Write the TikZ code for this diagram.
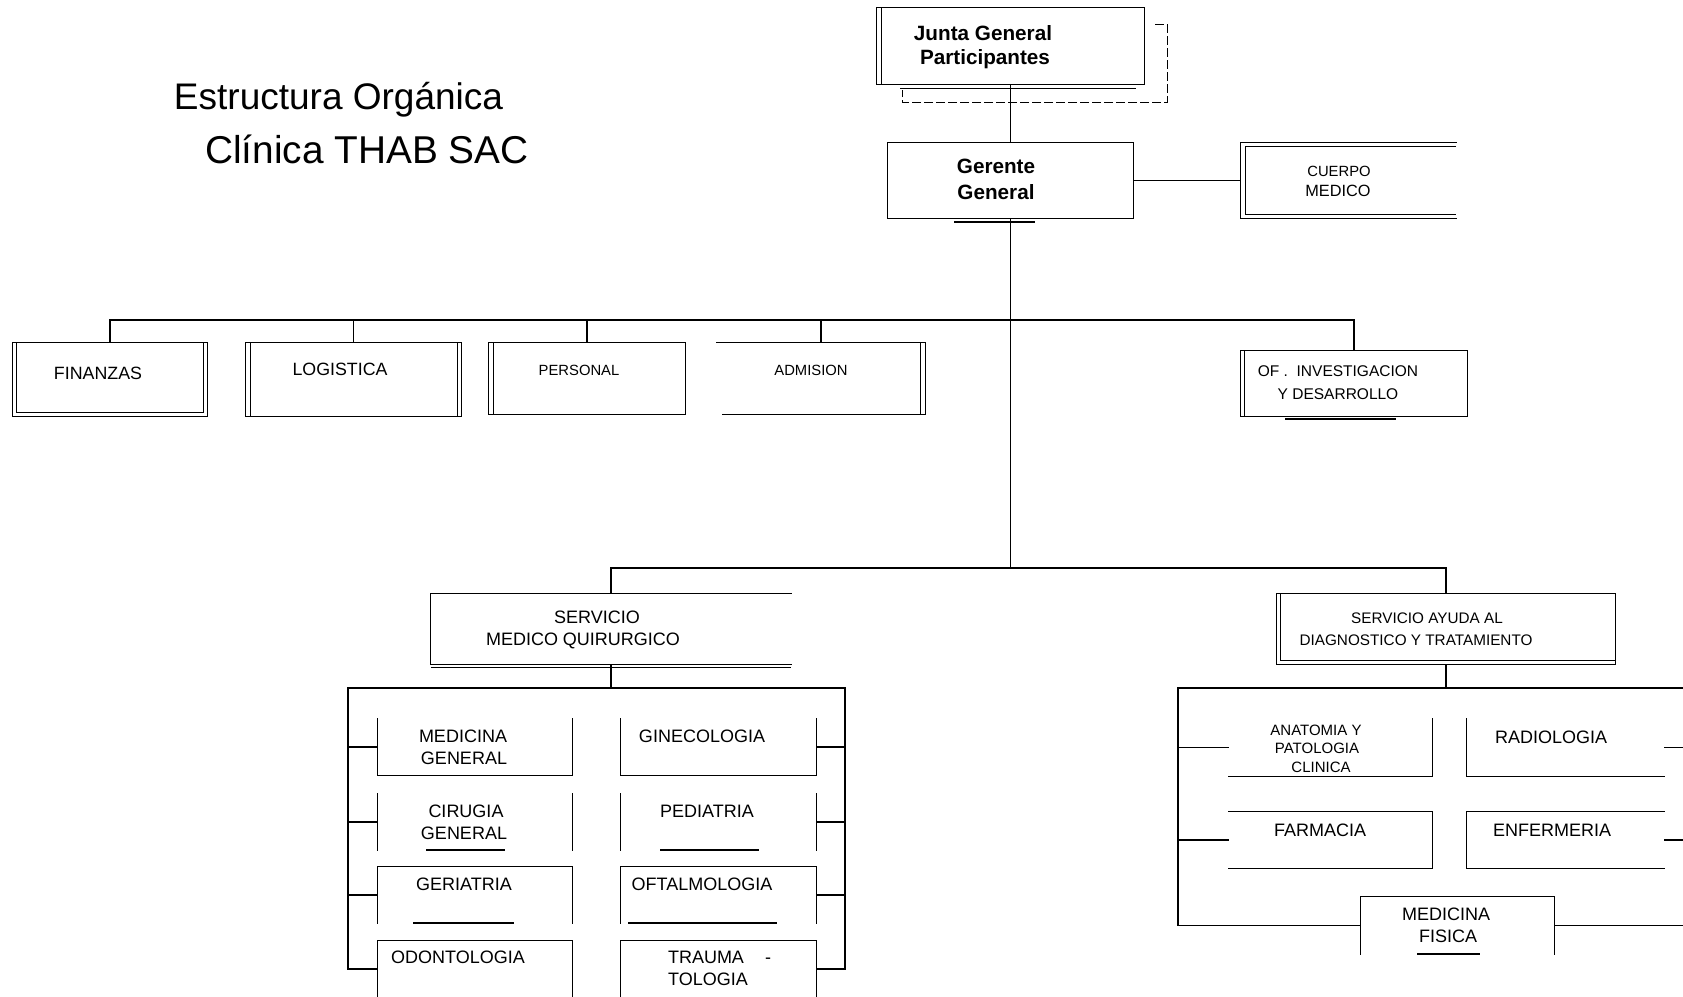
\documentclass[tikz,border=0pt]{standalone}
\usepackage{fontspec}
\setmainfont{Liberation Sans}
\newcommand\lbl[5]{\node[anchor=base,inner sep=0pt,yshift=-0.358*#4pt,font=\fontsize{#4pt}{#4pt}\selectfont] (#1) at (#2,#3) {#5};}
\begin{document}
\begin{tikzpicture}[x=1pt,y=-1pt,
  ln/.style={line width=1.1pt,line cap=rect},
  ln2/.style={line width=0.8pt},
  dsh/.style={line width=0.8pt,dash pattern=on 9pt off 3pt},
  bx/.style={rectangle,inner sep=0pt,draw=none}]
\useasboundingbox[fill=white] (0,0) rectangle (1683,996);

% ---------- title ----------
\lbl{t1}{338.5}{96}{37}{Estructura Orgánica}
\lbl{t2}{367}{150}{38.8}{Clínica THAB SAC}

% ---------- junta ----------
\node[bx,minimum width=267pt,minimum height=76.5pt] (junta) at (1010.5,45.75) {};
\draw[ln] (junta.north west) rectangle (junta.south east);
\draw[ln2] ([xshift=5pt]junta.north west) -- ([xshift=5pt]junta.south west);
\draw[ln2] (900,88.5) -- (1136,88.5);
\draw[dsh] (1155,24) -- (1167,24) -- (1167,102) -- (902,102) -- (902,90);
\lbl{tj1}{983}{33}{20.7}{\bfseries Junta General}
\lbl{tj2}{985}{57}{20.7}{\bfseries Participantes}

% ---------- gerente ----------
\node[bx,minimum width=245pt,minimum height=75pt] (ger) at (1010.5,180.5) {};
\draw[ln] (ger.north west) rectangle (ger.south east);
\draw[ln] (955,222) -- (1034,222);
\lbl{tg1}{996}{166}{20.7}{\bfseries Gerente}
\lbl{tg2}{996}{192}{20.7}{\bfseries General}
\draw[ln] (junta.south) -- (ger.north);

% ---------- cuerpo medico ----------
\node[bx,minimum width=215pt,minimum height=75pt] (cue) at (1348.5,180.5) {};
\draw[ln] (cue.north east) -- (cue.north west) -- (cue.south west) -- (cue.south east);
\draw[ln2] ([yshift=-4pt]cue.north east) -- ([xshift=5pt,yshift=-4pt]cue.north west) -- ([xshift=5pt,yshift=4pt]cue.south west) -- ([yshift=4pt]cue.south east);
\lbl{tc1}{1339}{171}{14.8}{CUERPO}
\lbl{tc2}{1338}{191}{16.3}{MEDICO}
\draw[ln] (ger.east) -- (cue.west);

% ---------- second level ----------
\node[bx,minimum width=194pt,minimum height=73pt] (fin) at (110,379.5) {};
\node[bx,minimum width=215pt,minimum height=73pt] (log) at (353.5,379.5) {};
\node[bx,minimum width=196pt,minimum height=71pt] (per) at (587,378.5) {};
\node[bx,minimum width=208pt,minimum height=71pt] (adm) at (821,378.5) {};
\node[bx,minimum width=226pt,minimum height=65pt] (of) at (1354,383.5) {};
\coordinate (j1) at (1010.5,320);
\coordinate (j2) at (1010.5,568);

\draw[ln] (ger.south) -- (j2);
\draw[ln] (fin.north) -- (fin.north |- j1) -- (of.north |- j1) -- (of.north);
\foreach \n in {log,per,adm} \draw[ln] (\n.north) -- (\n.north |- j1);

\draw[ln] (fin.north west) rectangle (fin.south east);
\draw[ln2] ([xshift=4pt]fin.north west) -- ([xshift=4pt,yshift=4pt]fin.south west) -- ([xshift=-4pt,yshift=4pt]fin.south east) -- ([xshift=-4pt]fin.north east);
\lbl{tfin}{98}{373}{17.8}{FINANZAS}

\draw[ln] (log.north west) rectangle (log.south east);
\draw[ln2] ([xshift=5pt]log.north west) -- ([xshift=5pt]log.south west);
\draw[ln2] ([xshift=-4pt]log.north east) -- ([xshift=-4pt]log.south east);
\lbl{tlog}{340}{369}{17.8}{LOGISTICA}

\draw[ln] (per.north west) rectangle (per.south east);
\draw[ln2] ([xshift=5pt]per.north west) -- ([xshift=5pt]per.south west);
\lbl{tper}{579}{370}{14.8}{PERSONAL}

\draw[ln] (adm.north west) -- (adm.north east) -- (adm.south east) -- ([xshift=6pt]adm.south west);
\draw[ln2] ([xshift=-5pt]adm.north east) -- ([xshift=-5pt]adm.south east);
\lbl{tadm}{811}{370}{14.8}{ADMISION}

\draw[ln] (of.north west) rectangle (of.south east);
\draw[ln2] ([xshift=4pt]of.north west) -- ([xshift=4pt]of.south west);
\draw[ln] (1286,419) -- (1395,419);
\lbl{tof1}{1338}{371}{15.5}{OF .\ \ INVESTIGACION}
\lbl{tof2}{1338}{394}{15.5}{Y DESARROLLO}

% ---------- services ----------
\node[bx,minimum width=360pt,minimum height=70pt] (smq) at (611,629) {};
\node[bx,minimum width=338pt,minimum height=70pt] (sad) at (1446,629) {};
\draw[ln] (smq.north) -- (smq.north |- j2) -- (sad.north |- j2) -- (sad.north);

\draw[ln] (smq.north east) -- (smq.north west) -- (smq.south west) -- (smq.south east);
\draw[ln2] ([yshift=-3.5pt]smq.south west) -- ([yshift=-3.5pt]smq.south east);
\lbl{ts1}{597}{617}{18}{SERVICIO}
\lbl{ts2}{583}{639}{18}{MEDICO QUIRURGICO}

\draw[ln] (sad.north west) rectangle (sad.south east);
\draw[ln2] ([xshift=4pt]sad.north west) -- ([xshift=4pt,yshift=4pt]sad.south west) -- ([yshift=4pt]sad.south east);
\lbl{td1}{1427}{618}{15.3}{SERVICIO AYUDA AL}
\lbl{td2}{1416}{640}{15.3}{DIAGNOSTICO Y TRATAMIENTO}

% ---------- left group ----------
\coordinate (lfL) at (348,688);
\coordinate (lfR) at (845,688);
\node[bx,minimum width=194pt,minimum height=56pt] (mg)   at (475,747) {};
\node[bx,minimum width=195pt,minimum height=56pt] (gin)  at (718.5,747) {};
\node[bx,minimum width=194pt,minimum height=56pt] (cir)  at (475,822) {};
\node[bx,minimum width=195pt,minimum height=56pt] (ped)  at (718.5,822) {};
\node[bx,minimum width=194pt,minimum height=56pt] (geri) at (475,895) {};
\node[bx,minimum width=195pt,minimum height=56pt] (oft)  at (718.5,895) {};
\node[bx,minimum width=194pt,minimum height=56pt] (odo)  at (475,969) {};
\node[bx,minimum width=195pt,minimum height=56pt] (tra)  at (718.5,969) {};

\draw[ln] (smq.south) -- (smq.south |- lfL);
\draw[ln] (odo.west) -- (odo.west -| lfL) -- (lfL) -- (lfR) -- (tra.east -| lfR) -- (tra.east);
\foreach \n in {mg,cir,geri} \draw[ln] (\n.west) -- (\n.west -| lfL);
\foreach \n in {gin,ped,oft} \draw[ln] (\n.east) -- (\n.east -| lfR);

\foreach \n in {mg,gin} \draw[ln] (\n.north west) -- (\n.south west) -- (\n.south east) -- (\n.north east);
\foreach \n in {cir,ped} {\draw[ln] (\n.north west) -- (\n.south west); \draw[ln] (\n.north east) -- (\n.south east);}
\foreach \n in {geri,oft,odo,tra} \draw[ln] (\n.south west) -- (\n.north west) -- (\n.north east) -- (\n.south east);
\draw[ln] (427,850) -- (504,850);
\draw[ln] (661,850) -- (758,850);
\draw[ln] (414,923) -- (513,923);
\draw[ln] (629,923) -- (776,923);

\lbl{tmg1}{463}{736}{18}{MEDICINA}
\lbl{tmg2}{464}{758}{18}{GENERAL}
\lbl{tgin}{702}{736}{18}{GINECOLOGIA}
\lbl{tcir1}{466}{811}{18}{CIRUGIA}
\lbl{tcir2}{464}{833}{18}{GENERAL}
\lbl{tped}{707}{811}{18}{PEDIATRIA}
\lbl{tger}{464}{884}{18}{GERIATRIA}
\lbl{toft}{702}{884}{18}{OFTALMOLOGIA}
\lbl{todo}{458}{957}{18}{ODONTOLOGIA}
\lbl{ttr1}{706}{957}{18}{TRAUMA}
\lbl{ttr2}{768}{957}{18}{-}
\lbl{ttr3}{708}{979}{18}{TOLOGIA}

% ---------- right group ----------
\coordinate (rfL) at (1178,688);
\coordinate (rfR) at (1683,688);
\node[bx,minimum width=203pt,minimum height=57pt] (ana)  at (1330.5,747.5) {};
\node[bx,minimum width=197pt,minimum height=57pt] (rad)  at (1565.5,747.5) {};
\node[bx,minimum width=203pt,minimum height=56pt] (far)  at (1330.5,840) {};
\node[bx,minimum width=197pt,minimum height=56pt] (enf)  at (1565.5,840) {};
\node[bx,minimum width=193pt,minimum height=57pt] (mfis) at (1457.5,925.5) {};

\draw[ln] (sad.south) -- (sad.south |- rfL);
\draw[ln] (mfis.west) -- (mfis.west -| rfL) -- (rfL) -- (rfR);
\draw[ln] (mfis.east) -- (mfis.east -| rfR);
\foreach \n in {ana,far} \draw[ln] (\n.west) -- (\n.west -| rfL);
\foreach \n in {rad,enf} \draw[ln] (\n.east) -- (\n.east -| rfR);

\draw[ln] (ana.south west) -- (ana.south east) -- (ana.north east);
\draw[ln] (rad.north west) -- (rad.south west) -- (rad.south east);
\draw[ln] (far.north west) -- (far.north east) -- (far.south east) -- (far.south west);
\draw[ln] (enf.north east) -- (enf.north west) -- (enf.south west) -- (enf.south east);
\draw[ln] (mfis.south west) -- (mfis.north west) -- (mfis.north east) -- (mfis.south east);
\draw[ln] (1418,954) -- (1479,954);

\lbl{ta1}{1316}{730}{15}{ANATOMIA Y}
\lbl{ta2}{1317}{748}{15}{PATOLOGIA}
\lbl{ta3}{1321}{767}{15}{CLINICA}
\lbl{trad}{1551}{737}{18}{RADIOLOGIA}
\lbl{tfar}{1320}{830}{18}{FARMACIA}
\lbl{tenf}{1552}{830}{18}{ENFERMERIA}
\lbl{tmf1}{1446}{914}{18}{MEDICINA}
\lbl{tmf2}{1448}{936}{18}{FISICA}
\end{tikzpicture}
\end{document}
